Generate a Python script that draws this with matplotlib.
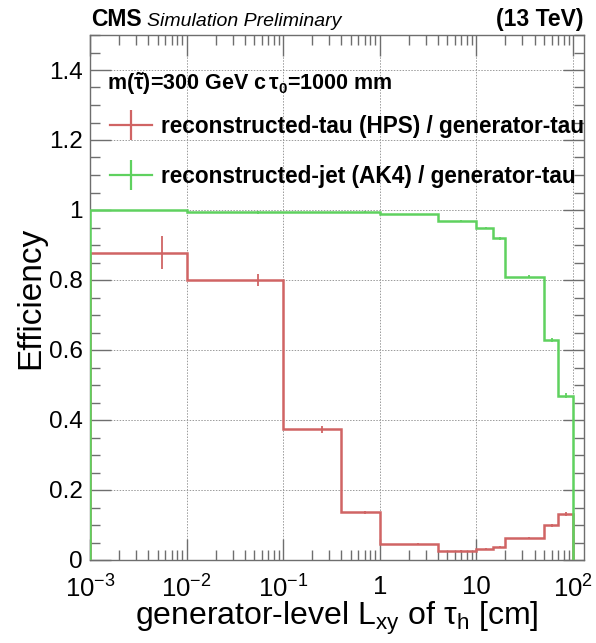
import numpy as np
import matplotlib
matplotlib.use("Agg")
import matplotlib.pyplot as plt
from matplotlib.lines import Line2D
from matplotlib.ticker import LogLocator, FixedLocator, MultipleLocator, NullFormatter

plt.rcParams['font.family'] = ['Liberation Sans', 'DejaVu Sans']
plt.rcParams['mathtext.fontset'] = 'custom'
plt.rcParams['mathtext.rm'] = 'Liberation Sans'
plt.rcParams['mathtext.it'] = 'Liberation Sans:italic'
plt.rcParams['mathtext.bf'] = 'Liberation Sans:bold'
plt.rcParams['mathtext.default'] = 'regular'

# ---- data ----
bin_edges = [0.001, 0.01, 0.1, 0.4, 1, 4, 10, 15, 20, 50, 70, 100]
tau_eff = [0.878, 0.800, 0.373, 0.136, 0.047, 0.027, 0.031, 0.036, 0.064, 0.099, 0.131]
tau_err = [0.047, 0.017, 0.010, 0.005, 0.002, 0.002, 0.002, 0.003, 0.003, 0.004, 0.005]
jet_eff = [1.000, 0.993, 0.993, 0.995, 0.988, 0.970, 0.948, 0.919, 0.810, 0.629, 0.469]
jet_err = [0.000, 0.003, 0.002, 0.001, 0.001, 0.002, 0.003, 0.004, 0.004, 0.006, 0.007]
bin_centers = [0.0055, 0.055, 0.25, 0.7, 2.5, 7, 12.5, 17.5, 35, 60, 85]
x_ticks = [1e-3, 1e-2, 1e-1, 1, 10, 100]
x_ticklabels = [r'$10^{-3}$', r'$10^{-2}$', r'$10^{-1}$', '1', '10', r'$10^{2}$']
y_ticks = [0, 0.2, 0.4, 0.6, 0.8, 1, 1.2, 1.4]
y_ticklabels = ['0', '0.2', '0.4', '0.6', '0.8', '1', '1.2', '1.4']

red = '#d06464'
green = '#5fd15f'
frame = '#6e6e6e'

fig = plt.figure(figsize=(5.96, 6.43), dpi=100)
ax = fig.add_axes([90/596, 1-560/643, (584-90)/596, (560-35)/643])

ax.set_xscale('log')
ax.set_xlim(1e-3, 10**2.114)
ax.set_ylim(0, 1.5)

ax.stairs(tau_eff, bin_edges, baseline=0, color=red, lw=1.8, zorder=3)
ax.errorbar(bin_centers, tau_eff, yerr=tau_err, fmt='none', ecolor=red, elinewidth=1.3, zorder=3)
ax.stairs(jet_eff, bin_edges, baseline=0, color=green, lw=1.8, zorder=4)
ax.errorbar(bin_centers, jet_eff, yerr=jet_err, fmt='none', ecolor=green, elinewidth=1.3, zorder=4)

# ticks
ax.xaxis.set_major_locator(FixedLocator(x_ticks))
ax.set_xticklabels(x_ticklabels)
ax.xaxis.set_minor_locator(LogLocator(base=10, subs=np.arange(2, 10), numticks=20))
ax.xaxis.set_minor_formatter(NullFormatter())
ax.yaxis.set_major_locator(FixedLocator(y_ticks))
ax.set_yticklabels(y_ticklabels)
ax.yaxis.set_minor_locator(MultipleLocator(0.05))
ax.tick_params(which='both', direction='in', top=True, right=True, colors=frame,
               labelcolor='black', labelsize=17.5)
ax.tick_params(axis='x', which='major', labelsize=18.5)
ax.tick_params(which='major', length=15, width=1)
ax.tick_params(which='minor', length=7.5, width=1)
ax.tick_params(axis='x', which='major', pad=11)
ax.tick_params(axis='y', which='major', pad=5)
for s in ax.spines.values():
    s.set_color(frame)
    s.set_linewidth(1.0)

ax.grid(True, which='major', linestyle=(0, (1.5, 1.5)), color='#9a9a9a', linewidth=0.7)
ax.set_axisbelow(True)

ax.set_ylabel('Efficiency', fontsize=24, labelpad=2)
ax.set_xlabel(r'generator-level L$_{xy}$ of $\tau_{h}$ [cm]', fontsize=23, labelpad=-2)

# header texts
fig.text(91/596, 1-26/643, 'CMS', fontsize=16.5, fontweight='bold', ha='left', va='baseline')
fig.text(147/596, 1-26/643, 'Simulation Preliminary', fontsize=14, style='italic', ha='left', va='baseline')
fig.text(584/596, 1-26/643, '(13 TeV)', fontsize=16.5, fontweight='bold', ha='right', va='baseline')

fig.text(107/596, 1-90/643, r'm($\mathbf{\tilde{\tau}}$)=300 GeV c$\,\tau_{0}$=1000 mm',
         fontsize=15.5, fontweight='bold', ha='left', va='baseline')

# legend
h_red = (Line2D([], [], color=red, lw=1.6), Line2D([], [], color=red, marker='|', markersize=21.5, mew=1.6, linestyle='none'))
h_green = (Line2D([], [], color=green, lw=1.6), Line2D([], [], color=green, marker='|', markersize=21.5, mew=1.6, linestyle='none'))
leg = ax.legend([h_red, h_green],
                ['reconstructed-tau (HPS) / generator-tau', 'reconstructed-jet (AK4) / generator-tau'],
                loc='upper left', bbox_to_anchor=((110-90)/494, (560-115)/525),
                frameon=False, prop={'weight': 'bold', 'size': 16.3},
                handlelength=1.85, handletextpad=0.4, labelspacing=1.2, borderpad=0, borderaxespad=0)

fig.savefig('out.png', dpi=100)
